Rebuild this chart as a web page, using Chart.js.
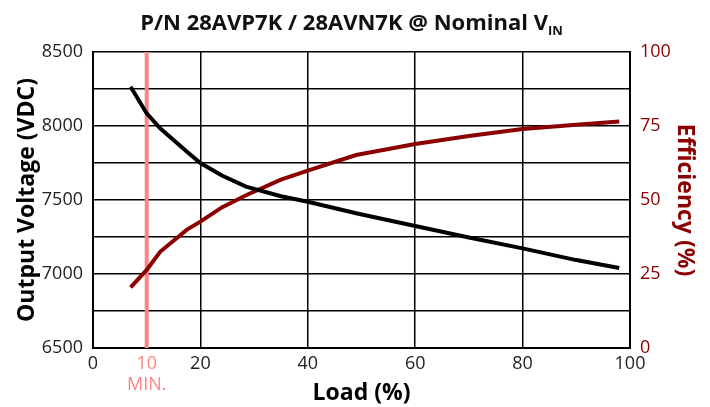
<!DOCTYPE html>
<html>
<head>
<meta charset="utf-8">
<title>P/N 28AVP7K / 28AVN7K</title>
<script src="https://cdn.jsdelivr.net/npm/chart.js@4.4.0/dist/chart.umd.min.js"></script>
<style>
    body { margin: 0; background: #fff; font-family: 'Open Sans', sans-serif; }
    #wrap { position: relative; width: 710px; height: 407px; }
    #title { position: absolute; top: 6px; left: 0; width: 703px; text-align: center;
             font-weight: bold; font-size: 22px; line-height: 30px; color: #111; white-space: nowrap; }
    #title sub { font-size: 13px; vertical-align: -5px; line-height: 0; }
</style>
</head>
<body>
<div id="wrap">
    <canvas id="chart" width="710" height="407"></canvas>
    <div id="title">P/N 28AVP7K / 28AVN7K @ Nominal V<sub>IN</sub></div>
</div>
<script>
// Data
var loadPct    = [7, 10, 12.5, 17.5, 20, 24, 28.5, 35, 40, 49, 60, 70, 80, 90, 98];
var voltage    = [8265, 8085, 7985, 7826, 7750, 7665, 7590, 7525, 7488, 7410, 7324, 7247, 7173, 7094, 7040];
var efficiency = [20.5, 26.4, 32.5, 40, 42.7, 47.5, 51.6, 56.9, 59.9, 65.2, 68.9, 71.6, 74, 75.4, 76.5];
var minLoad = 10;
var xTickValues = [0, 10, 20, 40, 60, 80, 100];
var voltageRange = [6500, 8500];
var effRange = [0, 100];

var pink = '#ff8585';
var darkRed = '#8b0000';

function toPoints(xs, ys) {
    return xs.map(function (x, i) { return { x: x, y: ys[i] }; });
}

var ctx = document.getElementById('chart');
var chart = new Chart(ctx, {
    type: 'line',
    data: {
        datasets: [
            {
                label: 'Min load',
                data: [{ x: minLoad, y: voltageRange[0] }, { x: minLoad, y: voltageRange[1] }],
                borderColor: pink,
                borderWidth: 4,
                pointRadius: 0,
                yAxisID: 'y',
                order: 3
            },
            {
                label: 'Efficiency',
                data: toPoints(loadPct, efficiency),
                borderColor: darkRed,
                borderWidth: 4,
                pointRadius: 0,
                tension: 0,
                yAxisID: 'y2',
                order: 2
            },
            {
                label: 'Output Voltage',
                data: toPoints(loadPct, voltage),
                borderColor: '#000',
                borderWidth: 4,
                pointRadius: 0,
                tension: 0,
                yAxisID: 'y',
                order: 1
            }
        ]
    },
    options: {
        responsive: false,
        animation: false,
        layout: { padding: { top: 52, left: 0, right: 0, bottom: 0 } },
        plugins: {
            legend: { display: false },
            tooltip: { enabled: false }
        },
        scales: {
            x: {
                type: 'linear',
                min: 0,
                max: 100,
                afterBuildTicks: function (scale) {
                    scale.ticks = xTickValues.map(function (v) { return { value: v }; });
                },
                afterFit: function (scale) { scale.height = 59; },
                ticks: {
                    font: { family: 'Open Sans', size: 18, lineHeight: 1.15 },
                    padding: 6,
                    maxRotation: 0,
                    autoSkip: false,
                    color: function (c) { return c.tick && c.tick.value === minLoad ? pink : '#222'; },
                    callback: function (v) { return v === minLoad ? [String(v), 'MIN.'] : String(v); }
                },
                grid: {
                    color: function (c) { return c.tick && c.tick.value === minLoad ? 'rgba(0,0,0,0)' : '#000'; },
                    lineWidth: 1.5,
                    drawTicks: false
                },
                border: { color: '#000', width: 2 },
                title: {
                    display: true,
                    text: 'Load (%)',
                    font: { family: 'Open Sans', size: 23, weight: 'bold' },
                    color: '#000',
                    padding: { top: -12, bottom: 0 }
                }
            },
            y: {
                position: 'left',
                min: voltageRange[0],
                max: voltageRange[1],
                afterFit: function (scale) { scale.width = 93; },
                ticks: {
                    stepSize: 250,
                    font: { family: 'Open Sans', size: 18 },
                    color: '#222',
                    padding: 10,
                    callback: function (v) { return v % 500 === 0 ? String(v) : ''; }
                },
                grid: { color: '#000', lineWidth: 1.5, drawTicks: false },
                border: { color: '#000', width: 2 },
                title: {
                    display: true,
                    text: 'Output Voltage (VDC)',
                    font: { family: 'Open Sans', size: 23, weight: 'bold' },
                    color: '#000',
                    padding: { top: 14, bottom: 0 }
                }
            },
            y2: {
                position: 'right',
                min: effRange[0],
                max: effRange[1],
                afterFit: function (scale) { scale.width = 80; },
                ticks: {
                    stepSize: 12.5,
                    font: { family: 'Open Sans', size: 18 },
                    color: darkRed,
                    padding: 10,
                    callback: function (v) { return v % 25 === 0 ? String(v) : ''; }
                },
                grid: { display: false, drawTicks: false },
                border: { color: '#000', width: 2 },
                title: {
                    display: true,
                    text: 'Efficiency (%)',
                    font: { family: 'Open Sans', size: 23, weight: 'bold' },
                    color: darkRed,
                    padding: { top: 12, bottom: 0 }
                }
            }
        }
    }
});
</script>
</body>
</html>
